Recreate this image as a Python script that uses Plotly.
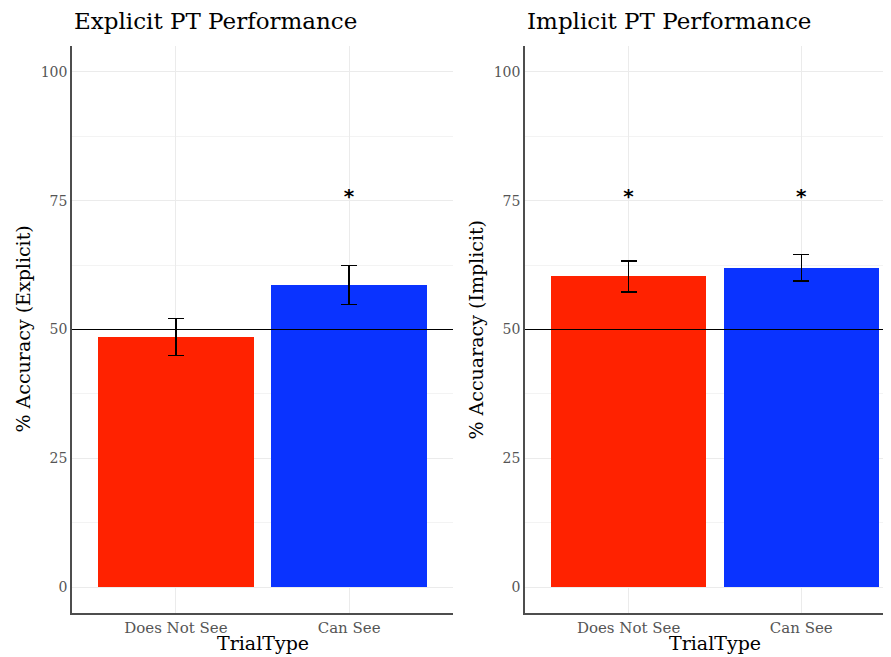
import plotly.graph_objects as go

categories = ["Does Not See", "Can See"]
explicit_means = [48.5, 58.6]
explicit_err = [3.6, 3.8]
implicit_means = [60.3, 62.0]
implicit_err = [3.0, 2.6]
explicit_sig = ["", "<b>*</b>"]
implicit_sig = ["<b>*</b>", "<b>*</b>"]
bar_colors = ["#ff2200", "#0a33ff"]
yticks = [0, 25, 50, 75, 100]
chance = 50
star_y = 75.5

FONT = "DejaVu Serif"
x_pos = [1, 2]

fig = go.Figure()

fig.add_trace(go.Bar(
    x=x_pos, y=explicit_means, width=0.9, marker=dict(color=bar_colors, line=dict(width=0)),
    error_y=dict(type="data", array=explicit_err, color="black", thickness=1.3, width=8),
    xaxis="x", yaxis="y", showlegend=False))
fig.add_trace(go.Bar(
    x=x_pos, y=implicit_means, width=0.9, marker=dict(color=bar_colors, line=dict(width=0)),
    error_y=dict(type="data", array=implicit_err, color="black", thickness=1.3, width=8),
    xaxis="x2", yaxis="y2", showlegend=False))

fig.add_trace(go.Scatter(x=x_pos, y=[star_y] * 2, text=explicit_sig, mode="text",
                         textfont=dict(size=20, color="black", family="DejaVu Sans"),
                         xaxis="x", yaxis="y", showlegend=False))
fig.add_trace(go.Scatter(x=x_pos, y=[star_y] * 2, text=implicit_sig, mode="text",
                         textfont=dict(size=20, color="black", family="DejaVu Sans"),
                         xaxis="x2", yaxis="y2", showlegend=False))

grid = "#ebebeb"
axis_common = dict(showline=True, linecolor="#4d4d4d", linewidth=1.5, ticks="",
                   gridcolor=grid, gridwidth=1, zeroline=False)
xtickfont = dict(family=FONT, size=15, color="#555555")
ytickfont = dict(family=FONT, size=14, color="#555555")

PW = 819
L_DOM = [0, (453 - 72) / PW]
R_DOM = [(525 - 72) / PW, 1]

fig.update_layout(
    width=883, height=649,
    margin=dict(l=64, r=0, t=38, b=44),
    plot_bgcolor="white", paper_bgcolor="white",
    bargap=0,
    xaxis=dict(domain=L_DOM, range=[0.4, 2.6], tickvals=x_pos, ticktext=categories,
               anchor="y", tickfont=xtickfont, **axis_common),
    yaxis=dict(domain=[0, 1], range=[-5, 105], tickvals=yticks, anchor="x", tickfont=ytickfont,
               minor=dict(tickvals=[12.5, 37.5, 62.5, 87.5], showgrid=True, gridcolor="#f3f3f3"),
               **axis_common),
    xaxis2=dict(domain=R_DOM, range=[0.4, 2.52], tickvals=x_pos, ticktext=categories,
                anchor="y2", tickfont=xtickfont, **axis_common),
    yaxis2=dict(domain=[0, 1], range=[-5, 105], tickvals=yticks, anchor="x2", tickfont=ytickfont,
                minor=dict(tickvals=[12.5, 37.5, 62.5, 87.5], showgrid=True, gridcolor="#f3f3f3"),
                **axis_common),
    shapes=[
        dict(type="line", xref="x domain", yref="y", x0=0, x1=1, y0=chance, y1=chance,
             line=dict(color="black", width=1.2)),
        dict(type="line", xref="x2 domain", yref="y2", x0=0, x1=1, y0=chance, y1=chance,
             line=dict(color="black", width=1.2)),
    ],
    annotations=[
        dict(text="Explicit PT Performance", xref="paper", yref="paper", x=L_DOM[0], y=1.0,
             xanchor="left", yanchor="bottom", yshift=10, showarrow=False,
             font=dict(family=FONT, size=23, color="black")),
        dict(text="Implicit PT Performance", xref="paper", yref="paper", x=R_DOM[0], y=1.0,
             xanchor="left", yanchor="bottom", yshift=10, showarrow=False,
             font=dict(family=FONT, size=23, color="black")),
        dict(text="% Accuracy (Explicit)", xref="paper", yref="paper", x=L_DOM[0], y=0.5,
             xanchor="center", yanchor="middle", xshift=-50, textangle=-90, showarrow=False,
             font=dict(family=FONT, size=19, color="black")),
        dict(text="% Accuaracy (Implicit)", xref="paper", yref="paper", x=R_DOM[0], y=0.5,
             xanchor="center", yanchor="middle", xshift=-50, textangle=-90, showarrow=False,
             font=dict(family=FONT, size=19, color="black")),
        dict(text="TrialType", xref="paper", yref="paper", x=sum(L_DOM) / 2, y=0,
             xanchor="center", yanchor="bottom", yshift=-43, showarrow=False,
             font=dict(family=FONT, size=19, color="black")),
        dict(text="TrialType", xref="paper", yref="paper", x=(715 - 72) / PW, y=0,
             xanchor="center", yanchor="bottom", yshift=-43, showarrow=False,
             font=dict(family=FONT, size=19, color="black")),
    ],
)

fig.write_html("out.html")
